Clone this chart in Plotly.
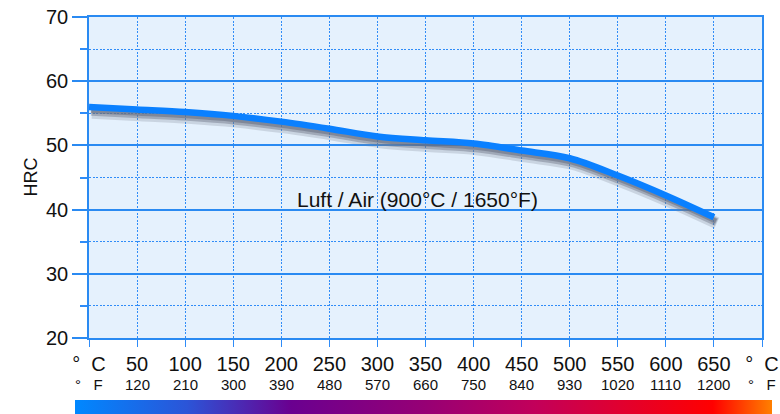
import base64
import plotly.graph_objects as go

# Data
temp_c = [0, 50, 100, 150, 200, 250, 300, 350, 400, 450, 500, 550, 600, 650]
hrc = [56.0, 55.6, 55.2, 54.6, 53.7, 52.6, 51.4, 50.8, 50.3, 49.2, 48.0, 45.3, 42.2, 38.8]

tick_c = [0, 50, 100, 150, 200, 250, 300, 350, 400, 450, 500, 550, 600, 650, 700]
tick_f = ["°\u00a0\u00a0\u00a0F", "120", "210", "300", "390", "480", "570", "660", "750",
          "840", "930", "1020", "1110", "1200", "°\u00a0\u00a0\u00a0F"]
tick_c_text = ["°\u00a0\u00a0C"] + [str(v) for v in tick_c[1:-1]] + ["°\u00a0\u00a0C"]
y_ticks = [20, 30, 40, 50, 60, 70]
label_text = "Luft / Air (900°C / 1650°F)"

BLUE = "#0a80ff"
GRID = "#2a8af2"
DOT = "#2f8cf8"
DASH = "2px,1.5px"
FONT = "Liberation Sans, Arial, sans-serif"

fig = go.Figure()

# shadow layers
for dx, dy, w, col in [(3.0, -0.9, 12, "rgba(120,128,145,0.25)"),
                       (2.5, -0.75, 8, "rgba(110,118,135,0.45)"),
                       (2.0, -0.6, 5, "rgba(100,108,125,0.55)")]:
    fig.add_trace(go.Scatter(x=[v + dx for v in temp_c], y=[v + dy for v in hrc],
                             mode="lines", line=dict(color=col, width=w, shape="spline", smoothing=0.9),
                             hoverinfo="skip", showlegend=False))

fig.add_trace(go.Scatter(x=temp_c, y=hrc, mode="lines",
                         line=dict(color=BLUE, width=6.5, shape="spline", smoothing=0.9),
                         showlegend=False))

fig.add_annotation(x=342, y=41.6, xref="x", yref="y", text=label_text, showarrow=False,
                   font=dict(family=FONT, size=21, color="#111111"))

fig.add_annotation(x=0, y=0.5, xref="paper", yref="paper", xshift=-71, text="HRC",
                   textangle=-90, showarrow=False, font=dict(family=FONT, size=18, color="#111111"))

# Fahrenheit row
for c, f in zip(tick_c, tick_f):
    fig.add_annotation(x=c, y=0, xref="x", yref="paper", yshift=-46, yanchor="middle",
                       text=f, showarrow=False,
                       font=dict(family=FONT, size=15, color="#111111"))

svg = ('<svg xmlns="http://www.w3.org/2000/svg" width="697" height="14" preserveAspectRatio="none">'
       '<defs><linearGradient id="g" x1="0" y1="0" x2="1" y2="0">'
       '<stop offset="0" stop-color="#0088ff"/>'
       '<stop offset="0.16" stop-color="#2b55d8"/>'
       '<stop offset="0.31" stop-color="#6a0090"/>'
       '<stop offset="0.5" stop-color="#960075"/>'
       '<stop offset="0.66" stop-color="#c2005a"/>'
       '<stop offset="0.78" stop-color="#e00030"/>'
       '<stop offset="0.915" stop-color="#ff0000"/>'
       '<stop offset="1" stop-color="#ff8000"/>'
       '</linearGradient></defs><rect width="697" height="14" fill="url(#g)"/></svg>')
src = "data:image/svg+xml;base64," + base64.b64encode(svg.encode()).decode()
fig.add_layout_image(source=src, xref="paper", yref="paper", x=-14 / 673, y=-62 / 321,
                     sizex=697 / 673, sizey=14 / 321, xanchor="left", yanchor="top",
                     sizing="stretch", layer="above")

fig.update_xaxes(range=[0, 700], tickvals=tick_c, ticktext=tick_c_text, ticks="outside",
                 ticklen=7, tickcolor=DOT, tickwidth=1, automargin=False,
                 showgrid=True, gridcolor=DOT, griddash=DASH, gridwidth=1.2,
                 showline=True, linecolor=GRID, linewidth=1.5, mirror=True,
                 zeroline=False, tickfont=dict(family=FONT, size=20, color="#111111"))
fig.update_yaxes(range=[20, 70], tickvals=y_ticks, ticks="outside", ticklen=15,
                 tickcolor=GRID, tickwidth=1.5, automargin=False,
                 showgrid=True, gridcolor=GRID, gridwidth=1.5,
                 minor=dict(dtick=5, tick0=0, showgrid=True, gridcolor=DOT, griddash=DASH,
                            gridwidth=1.2, ticks="outside", ticklen=7, tickcolor=DOT),
                 showline=True, linecolor=GRID, linewidth=1.5, mirror=True,
                 zeroline=False, tickfont=dict(family=FONT, size=20, color="#111111"))

fig.update_layout(width=780, height=414, margin=dict(l=89, r=18, t=17, b=76, autoexpand=False),
                  plot_bgcolor="#e5f1fd", paper_bgcolor="white",
                  font=dict(family=FONT))

fig.write_html("out.html", config={"displayModeBar": False},
               post_script="document.body.style.margin='0';")
